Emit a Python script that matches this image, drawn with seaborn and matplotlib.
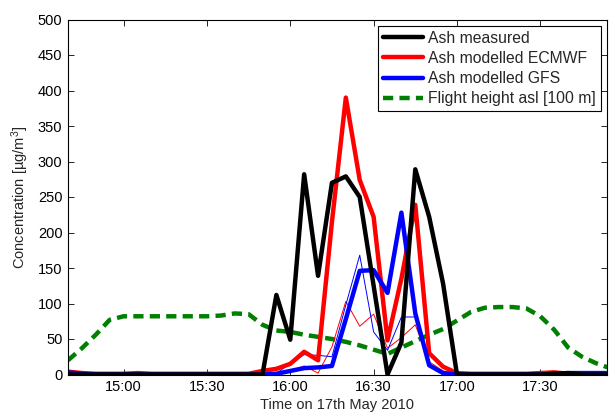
import numpy as np
import pandas as pd
import matplotlib
matplotlib.use("Agg")
import matplotlib.pyplot as plt
import matplotlib.dates as mdates
from matplotlib.lines import Line2D
import seaborn as sns

# ---- data (5-minute samples from 14:40 to 17:55 on 17 May 2010) ----
start_time = "2010-05-17 14:40"
n_samples = 40
ash_measured = [0, 0, 0, 0, 0, 0, 0, 0, 0, 0, 0, 0, 0, 0,
                0, 112, 49, 282, 139, 270, 279, 250, 125, 0, 45, 289, 222, 128,
                0, 0, 0, 0, 0, 0, 0, 1, 2, 0, 0, 0]
ash_ecmwf = [4, 2, 1, 1, 1, 2, 1, 1, 1, 1, 1, 1, 1, 1,
             5, 8, 15, 32, 20, 215, 390, 274, 222, 48, 135, 239, 30, 11,
             2, 1, 1, 1, 1, 1, 2, 3, 1, 1, 1, 1]
ash_gfs = [3, 1, 0, 0, 0, 0, 0, 0, 0, 0, 0, 0, 0, 0,
           0, 1, 5, 9, 10, 12, 78, 146, 147, 115, 228, 86, 13, 2,
           0, 0, 0, 0, 0, 0, 0, 1, 2, 2, 2, 2]
ash_ecmwf_thin = [2, 1, 0, 0, 0, 0, 0, 0, 0, 0, 0, 0, 0, 0,
                  0, 1, 5, 12, 2, 39, 103, 68, 85, 37, 52, 70, 18, 5,
                  1, 0, 0, 0, 0, 0, 0, 0, 0, 0, 0, 0]
ash_gfs_thin = [2, 1, 0, 0, 0, 0, 0, 0, 0, 0, 0, 0, 0, 0,
                0, 2, 15, 28, 27, 25, 98, 168, 60, 34, 81, 81, 11, 2,
                0, 0, 0, 0, 0, 0, 0, 0, 0, 0, 0, 0]
flight_height = [20, 37, 56, 77, 82, 82, 82, 82, 82, 82, 82, 83, 86, 85,
                 70, 62, 60, 56, 53, 50, 46, 41, 35, 29, 38, 47, 56, 64,
                 76, 88, 94, 95, 95, 93, 82, 63, 38, 25, 16, 9]

legend_labels = ["Ash measured", "Ash modelled ECMWF", "Ash modelled GFS",
                 "Flight height asl [100 m]"]
tick_times = ["15:00", "15:30", "16:00", "16:30", "17:00", "17:30"]
y_ticks = [0, 50, 100, 150, 200, 250, 300, 350, 400, 450, 500]

times = pd.date_range(start_time, periods=n_samples, freq="5min")
df = pd.DataFrame({
    "time": times,
    "measured": ash_measured,
    "ecmwf": ash_ecmwf,
    "gfs": ash_gfs,
    "ecmwf_thin": ash_ecmwf_thin,
    "gfs_thin": ash_gfs_thin,
    "flight": flight_height,
})

sns.set_style("ticks")
plt.rcParams["font.family"] = ["Liberation Sans", "DejaVu Sans"]
plt.rcParams["mathtext.default"] = "regular"

fig = plt.figure(figsize=(6.09, 4.12), dpi=100)
ax = fig.add_axes([68 / 609, 1 - 374.5 / 412, (607 - 68) / 609, (374.5 - 19.5) / 412])

GREEN = "#008000"
LW = 3.2
sns.lineplot(data=df, x="time", y="flight", ax=ax, color=GREEN, linewidth=LW)
ax.lines[-1].set_dashes((2.3, 1.4))
sns.lineplot(data=df, x="time", y="ecmwf_thin", ax=ax, color="#ff0000", linewidth=0.7)
sns.lineplot(data=df, x="time", y="gfs_thin", ax=ax, color="#0000ff", linewidth=0.7)
sns.lineplot(data=df, x="time", y="ecmwf", ax=ax, color="#ff0000", linewidth=LW)
sns.lineplot(data=df, x="time", y="gfs", ax=ax, color="#0000ff", linewidth=LW)
sns.lineplot(data=df, x="time", y="measured", ax=ax, color="black", linewidth=LW)

x0 = pd.Timestamp(start_time)
ax.set_xlim(x0, pd.Timestamp("2010-05-17 17:54"))
ax.set_ylim(0, 500)
ax.set_yticks(y_ticks)
ax.set_xticks([pd.Timestamp("2010-05-17 " + t) for t in tick_times])
ax.xaxis.set_major_formatter(mdates.DateFormatter("%H:%M"))

ax.tick_params(direction="in", top=True, right=True, length=4, width=0.6,
               labelsize=10.5, pad=4, colors="black")
for sp in ax.spines.values():
    sp.set_visible(True)
    sp.set_linewidth(0.8)
    sp.set_color("black")

ax.set_xlabel("Time on 17th May 2010", fontsize=10.5, labelpad=2.5)
ax.set_ylabel("Concentration [µg/m$^3$]", fontsize=10.5, labelpad=5)

handles = [
    Line2D([], [], color="black", linewidth=LW),
    Line2D([], [], color="#ff0000", linewidth=LW),
    Line2D([], [], color="#0000ff", linewidth=LW),
    Line2D([], [], color=GREEN, linewidth=LW, dashes=(2.3, 1.4)),
]
leg = ax.legend(handles, legend_labels, loc="upper right", fontsize=11.3,
                frameon=True, fancybox=False, framealpha=1, edgecolor="black",
                handlelength=2.55, handletextpad=0.3, labelspacing=0.33,
                borderaxespad=0.4, borderpad=0.32)
leg.get_frame().set_linewidth(0.8)

fig.savefig("out.png", dpi=100)
